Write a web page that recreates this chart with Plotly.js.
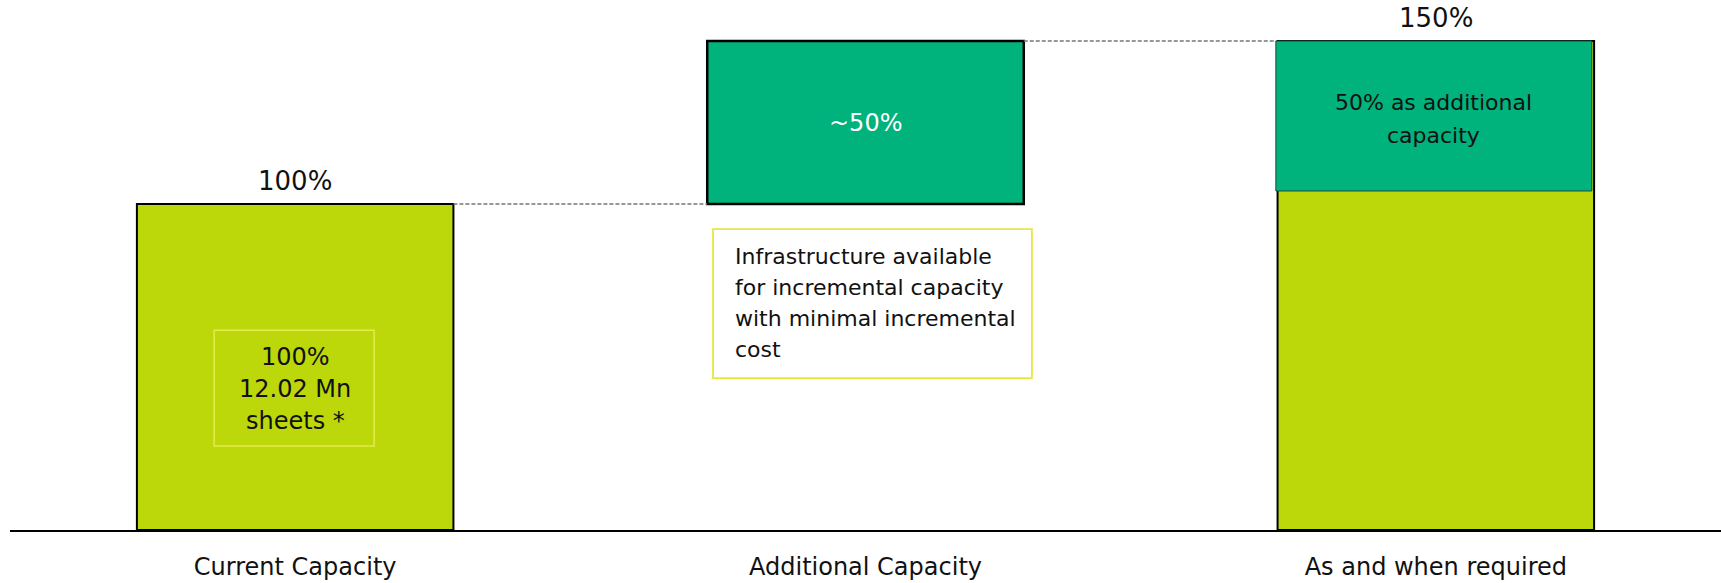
<!DOCTYPE html>
<html>
<head>
<meta charset="utf-8">
<script src="https://cdn.plot.ly/plotly-3.0.1.min.js"></script>
<style>html,body{margin:0;padding:0;background:#fff;}#chart{width:1721px;height:583px;}</style>
</head>
<body>
<div id="chart"></div>
<script>
// ---- data ----
const categories = ["Current Capacity", "Additional Capacity", "As and when required"];
const capacityTotal = [100, null, 150];        // lime bars (0 -> value)
const additionalBase = [null, 100, 104];       // green blocks start
const additionalValue = [null, 50, 46];        // green blocks height
const topLabels = ["100%", "", "150%"];
const barTexts = ["100%<br>12.02 Mn<br>sheets *", "~50%", "50% as additional<br>capacity"];
const noteText = "Infrastructure available<br>for incremental capacity<br>with minimal incremental<br>cost";

// ---- styles / geometry ----
const LIME = "#BDD80A", GREEN = "#00B27B", YELLOW = "#E6E83A";
const FONT = "DejaVu Sans";
const BAR_W = 0.555;
const addWidth = [BAR_W, BAR_W, 0.554], addOffset = [-BAR_W / 2, -BAR_W / 2, -0.2805];

const traces = [
  {type: "bar", x: categories, y: capacityTotal, base: 0, width: BAR_W,
   marker: {color: LIME, line: {color: "#000", width: 2}}, hoverinfo: "skip", showlegend: false},
  {type: "bar", x: categories, y: additionalValue, base: additionalBase, width: addWidth, offset: addOffset,
   marker: {color: GREEN, line: {color: ["#000", "#000", "#1d4a3a"], width: [2, 2.5, 1]}}, hoverinfo: "skip", showlegend: false}
];

function lines(text, x, y, size, color, lh, opts) {
  const parts = text.split("<br>");
  const n = parts.length;
  return parts.map((t, i) => Object.assign({
    x: x, y: y, xref: "x", yref: "y", text: t, showarrow: false,
    font: {family: FONT, size: size, color: color},
    yanchor: "middle", yshift: ((n - 1) / 2 - i) * lh
  }, opts || {}));
}

let annotations = [];
// top labels
topLabels.forEach((t, i) => {
  if (!t) return;
  annotations.push({x: i, y: capacityTotal[i], xref: "x", yref: "y", text: t, showarrow: false,
    yanchor: "bottom", yshift: 6, font: {family: FONT, size: 26, color: "#111"}});
});
// bar 1 inner text
annotations = annotations.concat(lines(barTexts[0], 0, 43.3, 24, "#111", 32));
// bar 2 text
annotations = annotations.concat(lines(barTexts[1], 1 + addOffset[1] + addWidth[1] / 2,
  additionalBase[1] + additionalValue[1] / 2, 24, "#fff", 32));
// bar 3 text
annotations = annotations.concat(lines(barTexts[2], 2 + addOffset[2] + addWidth[2] / 2,
  additionalBase[2] + additionalValue[2] / 2 - 1, 22, "#111", 33));
// note text (left aligned)
annotations = annotations.concat(lines(noteText, 0.7677, 69.5, 22, "#111", 31, {xanchor: "left", align: "left"}));

const dashLine = {color: "#777", width: 1.5, dash: "4px,2px"};
const shapes = [
  // dashed connectors
  {type: "line", xref: "x", yref: "y", x0: 0 + BAR_W / 2, x1: 1 + addOffset[1],
   y0: capacityTotal[0], y1: capacityTotal[0], line: dashLine},
  {type: "line", xref: "x", yref: "y", x0: 1 + addOffset[1] + addWidth[1], x1: 2 + addOffset[2],
   y0: additionalBase[1] + additionalValue[1], y1: additionalBase[1] + additionalValue[1], line: dashLine},
  // note boxes
  {type: "rect", xref: "x", yref: "y", x0: -0.142, x1: 0.1385, y0: 25.8, y1: 61.3,
   line: {color: "#E4EC4A", width: 1.5}, fillcolor: "rgba(0,0,0,0)"},
  {type: "rect", xref: "x", yref: "y", x0: 0.7327, x1: 1.2918, y0: 46.6, y1: 92.3,
   line: {color: YELLOW, width: 1.8}, fillcolor: "rgba(0,0,0,0)"}
];

const layout = {
  width: 1721, height: 583,
  margin: {l: 10, r: 0, t: 0, b: 53},
  paper_bgcolor: "#fff", plot_bgcolor: "#fff",
  barmode: "overlay",
  showlegend: false,
  xaxis: {type: "category", range: [-0.5, 2.5], showline: true, linecolor: "#000", linewidth: 2,
          ticks: "", showgrid: false, zeroline: false, fixedrange: true,
          tickfont: {family: FONT, size: 24, color: "#111"}, ticklabelstandoff: 14},
  yaxis: {range: [0, 162.58], visible: false, showgrid: false, zeroline: false, fixedrange: true},
  annotations: annotations,
  shapes: shapes
};

Plotly.newPlot("chart", traces, layout, {displayModeBar: false, staticPlot: true});
</script>
</body>
</html>
